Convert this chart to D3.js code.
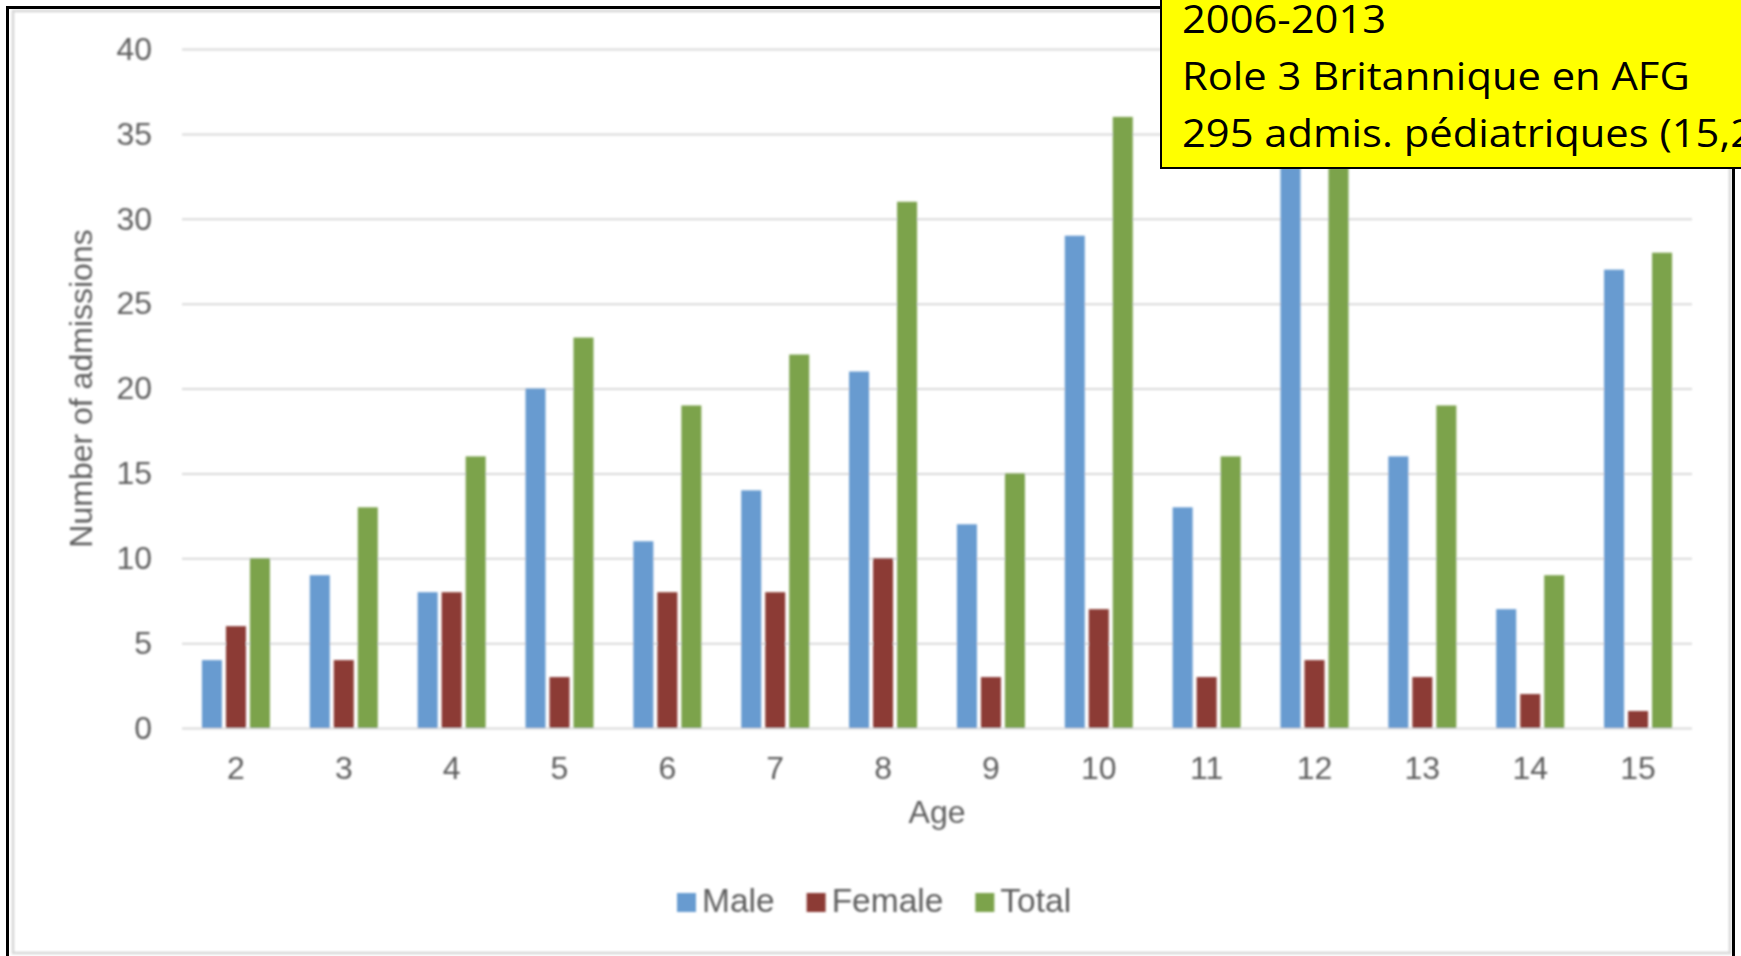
<!DOCTYPE html>
<html>
<head>
<meta charset="utf-8">
<script src="https://cdn.jsdelivr.net/npm/d3@7"></script>
<style>
  html, body { margin: 0; padding: 0; background: #ffffff; overflow: hidden; }
  svg { display: block; }
</style>
</head>
<body>
<svg id="chart" width="1741" height="956"></svg>
<script>
// Paediatric admissions by age (Role 3, Afghanistan, 2006-2013)
const ages = ["2", "3", "4", "5", "6", "7", "8", "9", "10", "11", "12", "13", "14", "15"];
const seriesNames = ["Male", "Female", "Total"];
const maleValues = [4, 9, 8, 20, 11, 14, 21, 12, 29, 13, 34, 16, 7, 27];
const femaleValues = [6, 4, 8, 3, 8, 8, 10, 3, 7, 3, 4, 3, 2, 1];
const totalValues = [10, 13, 16, 23, 19, 22, 31, 15, 36, 16, 38, 19, 9, 28];
const yTickValues = [0, 5, 10, 15, 20, 25, 30, 35, 40];
const seriesColors = ["#679bd0", "#8c3b35", "#7ba34b"];
const xTitle = "Age";
const yTitle = "Number of admissions";
const noteLines = [
  "2006-2013",
  "Role 3 Britannique en AFG",
  "295 admis. pédiatriques (15,2%)"
];

const seriesValues = [maleValues, femaleValues, totalValues];

const svg = d3.select("#chart");
const W = 1741, H = 956;
const plot = { left: 182, right: 1692, top: 49, bottom: 728 };

// soft focus for the chart body
const defs = svg.append("defs");
defs.append("filter").attr("id", "soft")
  .attr("x", "-5%").attr("y", "-5%").attr("width", "110%").attr("height", "110%")
  .append("feGaussianBlur").attr("stdDeviation", 0.9);

svg.append("rect").attr("width", W).attr("height", H).attr("fill", "#ffffff");

const chartG = svg.append("g").attr("filter", "url(#soft)");

// inner frame of the chart image
chartG.append("rect")
  .attr("x", 13).attr("y", 11).attr("width", 1717).attr("height", 942)
  .attr("fill", "none").attr("stroke", "#d6d6d6").attr("stroke-width", 2.5);

const x = d3.scaleBand().domain(ages).range([plot.left, plot.right]).paddingInner(0).paddingOuter(0);
const y = d3.scaleLinear().domain([0, 40]).range([plot.bottom, plot.top]);
const inner = d3.scaleBand().domain(seriesNames).range([-34, 34]).paddingInner(1 / 6).paddingOuter(0);

const fontFamily = "'Liberation Sans', Arial, Helvetica, sans-serif";
const textGray = "#5e5e5e";
const fontSize = "32px";

// horizontal grid lines
const yAxis = d3.axisLeft(y)
  .tickValues(yTickValues)
  .tickSize(-(plot.right - plot.left))
  .tickPadding(30)
  .tickFormat(d3.format("d"));

const yAxisG = chartG.append("g")
  .attr("transform", `translate(${plot.left},0)`)
  .call(yAxis);
yAxisG.select(".domain").remove();
yAxisG.selectAll(".tick line").attr("stroke", "#d9d9d9").attr("stroke-width", 2);
yAxisG.selectAll(".tick text")
  .attr("fill", textGray)
  .style("font-family", fontFamily)
  .style("font-size", fontSize);

// x axis labels
const xAxis = d3.axisBottom(x).tickSize(0).tickPadding(28);
const xAxisG = chartG.append("g")
  .attr("transform", `translate(0,${plot.bottom})`)
  .call(xAxis);
xAxisG.select(".domain").remove();
xAxisG.selectAll(".tick text")
  .attr("fill", textGray)
  .style("font-family", fontFamily)
  .style("font-size", fontSize);

// bars
const groups = chartG.append("g").selectAll("g")
  .data(ages)
  .join("g")
  .attr("transform", d => `translate(${x(d) + x.bandwidth() / 2},0)`);

groups.selectAll("rect")
  .data((age, i) => seriesNames.map((s, k) => ({ series: s, value: seriesValues[k][i], k })))
  .join("rect")
  .attr("x", d => inner(d.series))
  .attr("width", inner.bandwidth())
  .attr("y", d => y(d.value))
  .attr("height", d => y(0) - y(d.value))
  .attr("fill", d => seriesColors[d.k]);

// axis titles
chartG.append("text")
  .attr("x", (plot.left + plot.right) / 2)
  .attr("y", 823)
  .attr("text-anchor", "middle")
  .attr("fill", textGray)
  .style("font-family", fontFamily)
  .style("font-size", fontSize)
  .text(xTitle);

chartG.append("text")
  .attr("transform", `translate(92,${(plot.top + plot.bottom) / 2}) rotate(-90)`)
  .attr("text-anchor", "middle")
  .attr("fill", textGray)
  .style("font-family", fontFamily)
  .style("font-size", fontSize)
  .text(yTitle);

// legend
const legendG = chartG.append("g").attr("transform", "translate(677,0)");
let lx = 0;
seriesNames.forEach((name, k) => {
  legendG.append("rect")
    .attr("x", lx).attr("y", 893).attr("width", 19).attr("height", 19)
    .attr("fill", seriesColors[k]);
  const t = legendG.append("text")
    .attr("x", lx + 25).attr("y", 912)
    .attr("fill", textGray)
    .style("font-family", fontFamily)
    .style("font-size", "33.5px")
    .text(name);
  lx += 25 + t.node().getComputedTextLength() + 32;
});

// outer black frame
svg.append("rect")
  .attr("x", 7.5).attr("y", 7.5).attr("width", 1726).attr("height", 970)
  .attr("fill", "none").attr("stroke", "#000000").attr("stroke-width", 3);

// yellow note box
const noteG = svg.append("g");
noteG.append("rect")
  .attr("x", 1161).attr("y", -10).attr("width", 700).attr("height", 178)
  .attr("fill", "#ffff00").attr("stroke", "#000000").attr("stroke-width", 2);

const noteFont = "'Open Sans', 'Noto Sans', sans-serif";
const noteText = noteG.selectAll("text.note")
  .data(noteLines)
  .join("text")
  .attr("class", "note")
  .attr("fill", "#000000")
  .style("font-family", noteFont)
  .style("font-size", "38px")
  .text(d => d);

// condense the note lines horizontally so the middle line spans 508px
const probe = noteText.filter((d, i) => i === 1).node();
const squeeze = 508 / probe.getComputedTextLength();
noteText.attr("transform", (d, i) => `translate(1182,${33 + i * 57}) scale(${squeeze},1)`);
</script>
</body>
</html>
